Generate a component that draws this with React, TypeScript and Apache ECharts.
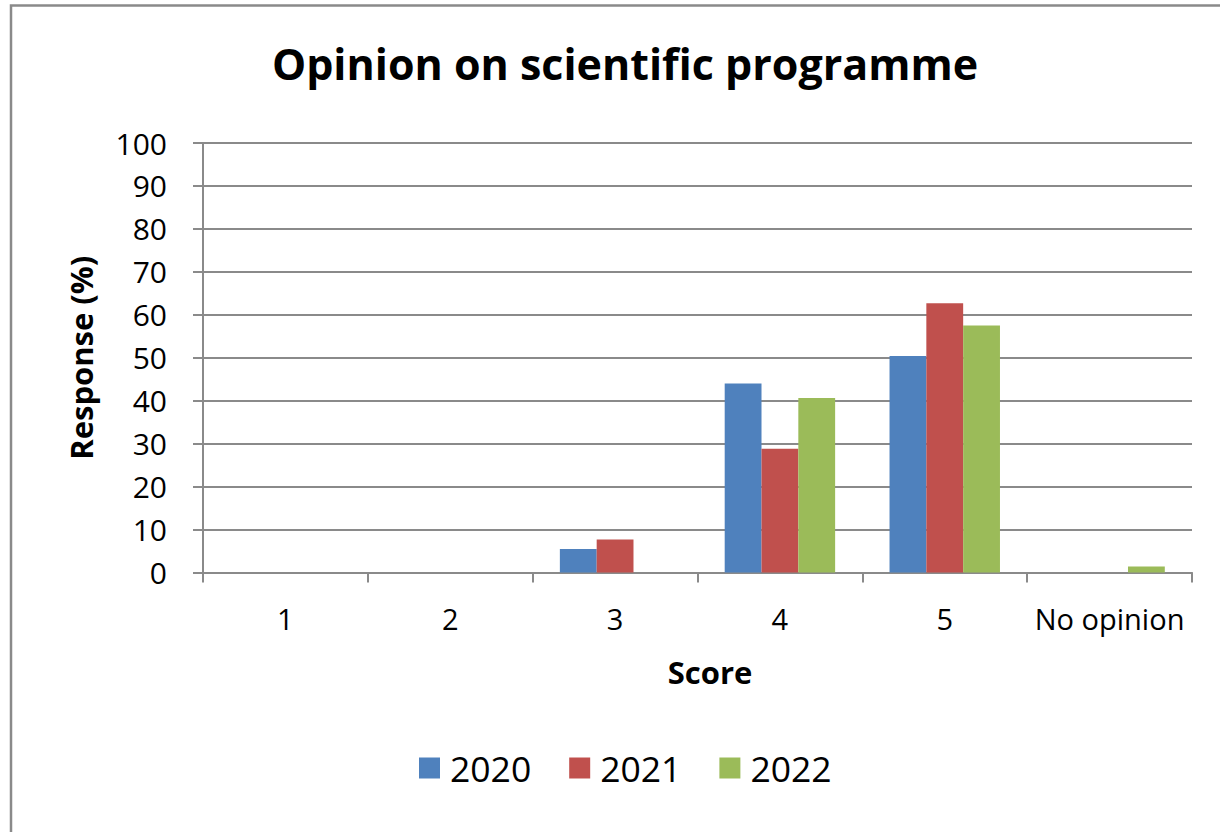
import React, { useEffect, useRef } from "react";
import * as echarts from "echarts";

const categories = ["1", "2", "3", "4", "5", "No opinion"];
const yearNames = ["2020", "2021", "2022"];
const values2020 = [0, 0, 5.5, 44.0, 50.4, 0];
const values2021 = [0, 0, 7.7, 28.8, 62.7, 0];
const values2022 = [0, 0, 0, 40.6, 57.5, 1.4];
const colors = ["#4F81BD", "#C0504D", "#9BBB59"];

const FONT = "'Open Sans', 'Liberation Sans', sans-serif";

export default function App() {
  const ref = useRef<HTMLDivElement>(null);
  useEffect(() => {
    if (!ref.current) return;
    const chart = echarts.init(ref.current, null, { renderer: "svg" });
    const seriesData = [values2020, values2021, values2022];
    chart.setOption({
      animation: false,
      backgroundColor: "#ffffff",
      textStyle: { fontFamily: FONT },
      title: {
        text: "Opinion on scientific programme",
        left: 620,
        textAlign: "center",
        top: 37,
        textStyle: { fontFamily: FONT, fontSize: 43, fontWeight: "bold", color: "#000" },
      },
      graphic: [
        {
          type: "rect",
          shape: { x: 11, y: 5.5, width: 1400, height: 1000 },
          style: { fill: "none", stroke: "#8a8a8a", lineWidth: 2.5 },
          silent: true,
          z: 100,
        },
      ],
      legend: {
        data: yearNames,
        left: 414,
        top: 745,
        icon: "rect",
        itemWidth: 21,
        itemHeight: 21,
        itemGap: 38,
        textStyle: { fontFamily: FONT, fontSize: 35.5, color: "#000", padding: [0, 0, 0, 5] },
      },
      grid: { left: 203, top: 143, right: 28, bottom: 259.5, containLabel: false },
      xAxis: {
        type: "category",
        data: categories,
        name: "Score",
        nameLocation: "middle",
        nameGap: 84,
        nameTextStyle: {
          fontFamily: FONT,
          fontSize: 31,
          fontWeight: "bold",
          color: "#000",
          padding: [0, 0, 0, 25],
        },
        axisLine: { show: true, lineStyle: { color: "#8a8a8a", width: 2 } },
        axisTick: { show: true, length: 10, lineStyle: { color: "#8a8a8a", width: 2 } },
        axisLabel: { fontFamily: FONT, fontSize: 29, color: "#000", margin: 31, interval: 0 },
        splitLine: { show: false },
      },
      yAxis: {
        type: "value",
        min: 0,
        max: 100,
        interval: 10,
        name: "Response (%)",
        nameLocation: "middle",
        nameGap: 107,
        nameTextStyle: { fontFamily: FONT, fontSize: 31, fontWeight: "bold", color: "#000" },
        axisLine: { show: true, lineStyle: { color: "#8a8a8a", width: 2 } },
        axisTick: { show: true, length: 10, lineStyle: { color: "#8a8a8a", width: 2 } },
        axisLabel: { fontFamily: FONT, fontSize: 30, color: "#000", margin: 36 },
        splitLine: { show: true, lineStyle: { color: "#8a8a8a", width: 2 } },
      },
      series: yearNames.map((name, i) => ({
        name,
        type: "bar",
        data: seriesData[i],
        barGap: "0%",
        barCategoryGap: "33%",
        itemStyle: { color: colors[i] },
      })),
    });
    return () => chart.dispose();
  }, []);
  return (
    <div
      ref={ref}
      style={{ position: "fixed", left: 0, top: 0, width: 1220, height: 832 }}
    />
  );
}
